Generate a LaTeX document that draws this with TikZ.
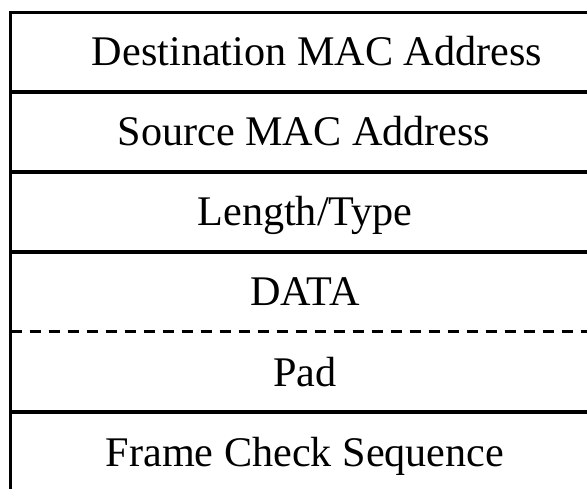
\documentclass[tikz,border=0pt]{standalone}
\usepackage{fontspec}
\setmainfont{Liberation Serif}
\usepackage{tikz}
\usetikzlibrary{positioning}
\tikzset{
  field/.style = {
    anchor=base, inner sep=0pt,
    font=\fontsize{42.2}{50}\selectfont
  },
  rowline/.style = {draw=black, line width=3.2pt},
  padline/.style = {draw=black, line width=3pt, dash pattern=on 11pt off 8pt}
}
\begin{document}
\begin{tikzpicture}[x=1pt,y=-1pt]
  \useasboundingbox (0,0) rectangle (587,489);
  % Frame corners and row edges
  \coordinate (tl) at (10.5,12.5);
  \coordinate (tr) at (587,12.5);
  \coordinate (bl) at (10.5,489);
  \coordinate (r1l) at (10.5,92);   \coordinate (r1r) at (587,92);
  \coordinate (r2l) at (10.5,172);  \coordinate (r2r) at (587,172);
  \coordinate (r3l) at (10.5,252);  \coordinate (r3r) at (587,252);
  \coordinate (r4l) at (10.5,332);  \coordinate (r4r) at (587,332);
  \coordinate (r5l) at (10.5,412);  \coordinate (r5r) at (587,412);
  % Fields
  \node[field] (dst)  at (317,66)  {Destination MAC Address};
  \node[field] (src)  at (304,146) {Source MAC Address};
  \node[field] (len)  at (305,226) {Length/Type};
  \node[field] (data) at (305,306) {DATA};
  \node[field] (pad)  at (305,386) {Pad};
  \node[field] (fcs)  at (305,466) {Frame Check Sequence};
  % Borders
  \draw[rowline, line width=3.5pt] (bl) -- (tl) -- (tr);
  \draw[rowline] (r1l) -- (r1r);
  \draw[rowline] (r2l) -- (r2r);
  \draw[rowline] (r3l) -- (r3r);
  \draw[padline] (r4l) -- (r4r);
  \draw[rowline] (r5l) -- (r5r);
\end{tikzpicture}
\end{document}
